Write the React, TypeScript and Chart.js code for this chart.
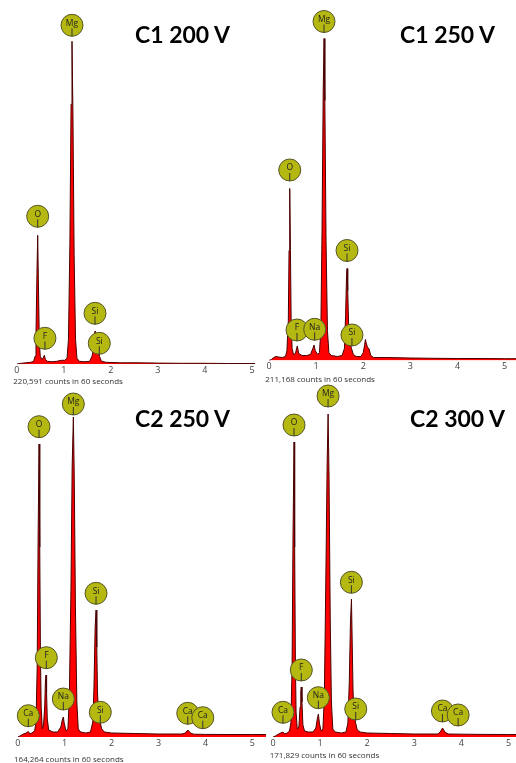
import React, { useEffect, useRef } from "react";
import { Chart, registerables } from "chart.js";

Chart.register(...registerables);
Chart.defaults.font.family = '"Open Sans", "DejaVu Sans", sans-serif';

// ---------- data (energy keV, counts) ----------
const tickValues = [0, 1, 2, 3, 4, 5];

const spectrumC1_200: [number, number][] = [
  [0.0, 0], [0.03, 5], [0.1, 10], [0.2, 15], [0.3, 20], [0.36, 30], [0.39, 80],
  [0.41, 300], [0.43, 900], [0.446, 1290], [0.46, 850], [0.48, 250], [0.5, 80],
  [0.53, 50], [0.56, 60], [0.587, 90], [0.61, 50], [0.65, 30], [0.75, 25],
  [0.85, 30], [0.95, 40], [1.02, 40], [1.07, 60], [1.1, 250], [1.13, 1200],
  [1.155, 2600], [1.175, 3230], [1.195, 2500], [1.22, 1100], [1.25, 250],
  [1.28, 60], [1.33, 30], [1.45, 25], [1.55, 30], [1.6, 80], [1.63, 150],
  [1.655, 250], [1.664, 330], [1.675, 200], [1.7, 160], [1.73, 140], [1.76, 80],
  [1.8, 30], [1.9, 20], [2.2, 15], [2.6, 15], [3.0, 12], [3.5, 10], [4.0, 10],
  [4.5, 8], [5.07, 8],
];

const spectrumC1_250: [number, number][] = [
  [0.0, 0], [0.05, 10], [0.1, 30], [0.15, 40], [0.2, 35], [0.28, 30], [0.35, 40],
  [0.38, 100], [0.41, 400], [0.425, 1100], [0.44, 1720], [0.455, 1100], [0.47, 400],
  [0.49, 120], [0.52, 60], [0.56, 70], [0.6, 145], [0.63, 70], [0.7, 50], [0.8, 50],
  [0.88, 60], [0.93, 120], [0.955, 155], [0.98, 100], [1.03, 60], [1.07, 80],
  [1.1, 300], [1.125, 1300], [1.15, 2700], [1.168, 3220], [1.185, 2600], [1.21, 1200],
  [1.24, 300], [1.27, 80], [1.32, 50], [1.45, 40], [1.55, 50], [1.6, 120],
  [1.625, 450], [1.645, 850], [1.656, 920], [1.67, 700], [1.69, 350], [1.72, 180],
  [1.75, 120], [1.79, 60], [1.85, 40], [1.95, 40], [2.0, 80], [2.03, 160],
  [2.045, 210], [2.06, 180], [2.09, 130], [2.12, 120], [2.16, 50], [2.22, 30],
  [2.5, 30], [3.0, 25], [3.5, 22], [4.0, 20], [4.5, 20], [5.0, 18], [5.24, 18],
];

const spectrumC2_250: [number, number][] = [
  [0.0, 0], [0.05, 10], [0.12, 30], [0.18, 40], [0.226, 55], [0.26, 30], [0.3, 40],
  [0.36, 60], [0.39, 150], [0.415, 700], [0.435, 2000], [0.455, 2930], [0.47, 1900],
  [0.485, 800], [0.5, 300], [0.525, 80], [0.55, 120], [0.575, 300], [0.59, 550],
  [0.603, 620], [0.615, 450], [0.63, 180], [0.66, 70], [0.75, 50], [0.85, 50],
  [0.92, 100], [0.95, 170], [0.973, 200], [0.99, 140], [1.03, 60], [1.07, 80],
  [1.1, 400], [1.135, 1500], [1.16, 2700], [1.186, 3200], [1.205, 2600], [1.23, 1300],
  [1.26, 350], [1.29, 80], [1.34, 50], [1.45, 40], [1.55, 50], [1.6, 150],
  [1.625, 500], [1.65, 1100], [1.67, 1270], [1.685, 900], [1.7, 450], [1.72, 250],
  [1.75, 160], [1.79, 80], [1.85, 50], [2.0, 40], [2.5, 35], [3.0, 30], [3.5, 30],
  [3.57, 40], [3.625, 70], [3.68, 40], [3.75, 28], [4.0, 26], [4.5, 25], [5.0, 25],
  [5.29, 25],
];

const spectrumC2_300: [number, number][] = [
  [0.0, 0], [0.05, 10], [0.12, 30], [0.21, 50], [0.25, 30], [0.3, 40], [0.35, 60],
  [0.38, 140], [0.405, 700], [0.425, 2000], [0.447, 2950], [0.46, 1900], [0.475, 800],
  [0.49, 250], [0.515, 80], [0.55, 100], [0.575, 300], [0.59, 450], [0.6, 500],
  [0.615, 350], [0.635, 120], [0.67, 60], [0.75, 50], [0.85, 50], [0.91, 90],
  [0.94, 180], [0.964, 230], [0.985, 140], [1.02, 60], [1.06, 80], [1.09, 400],
  [1.12, 1500], [1.15, 2750], [1.17, 3230], [1.19, 2600], [1.215, 1200], [1.24, 350],
  [1.27, 80], [1.32, 50], [1.45, 40], [1.55, 50], [1.59, 140], [1.62, 550],
  [1.645, 1150], [1.666, 1380], [1.68, 1000], [1.7, 450], [1.72, 250], [1.75, 150],
  [1.79, 70], [1.85, 50], [2.0, 40], [2.5, 35], [3.0, 30], [3.5, 30], [3.55, 50],
  [3.6, 90], [3.65, 50], [3.72, 30], [4.0, 28], [4.5, 26], [5.0, 25], [5.16, 25],
];

type Peak = { el: string; e: number; c: number };

const peaksC1_200: Peak[] = [
  { el: "Mg", e: 1.175, c: 3390 },
  { el: "O", e: 0.446, c: 1480 },
  { el: "Si", e: 1.664, c: 510 },
  { el: "F", e: 0.6, c: 260 },
  { el: "Si", e: 1.755, c: 210 },
];
const peaksC1_250: Peak[] = [
  { el: "Mg", e: 1.167, c: 3390 },
  { el: "O", e: 0.44, c: 1905 },
  { el: "Si", e: 1.655, c: 1100 },
  { el: "F", e: 0.594, c: 305 },
  { el: "Na", e: 0.969, c: 312 },
  { el: "Si", e: 1.76, c: 255 },
];
const peaksC2_250: Peak[] = [
  { el: "Mg", e: 1.185, c: 3330 },
  { el: "O", e: 0.454, c: 3103 },
  { el: "Si", e: 1.669, c: 1437 },
  { el: "F", e: 0.61, c: 793 },
  { el: "Na", e: 0.972, c: 380 },
  { el: "Ca", e: 0.226, c: 213 },
  { el: "Si", e: 1.76, c: 247 },
  { el: "Ca", e: 3.623, c: 237 },
  { el: "Ca", e: 3.943, c: 193 },
];
const peaksC2_300: Peak[] = [
  { el: "Mg", e: 1.169, c: 3410 },
  { el: "O", e: 0.446, c: 3120 },
  { el: "Si", e: 1.664, c: 1547 },
  { el: "F", e: 0.601, c: 670 },
  { el: "Na", e: 0.963, c: 393 },
  { el: "Ca", e: 0.212, c: 247 },
  { el: "Si", e: 1.757, c: 280 },
  { el: "Ca", e: 3.598, c: 260 },
  { el: "Ca", e: 3.931, c: 220 },
];

const titles = ["C1 200 V", "C1 250 V", "C2 250 V", "C2 300 V"];
const countsText = [
  "220,591 counts in 60 seconds",
  "211,168 counts in 60 seconds",
  "164,264 counts in 60 seconds",
  "171,829 counts in 60 seconds",
];

// ---------- layout ----------
type PanelCfg = {
  spectrum: [number, number][];
  peaks: Peak[];
  title: string;
  counts: string;
  left: number; top: number; width: number; height: number;
  pad: { left: number; right: number; top: number; bottom: number };
  xMax: number;
  titlePos: [number, number];
  countsPos: [number, number];
};

const Y_MAX = 3600;

const panels: PanelCfg[] = [
  {
    spectrum: spectrumC1_200, peaks: peaksC1_200, title: titles[0], counts: countsText[0],
    left: 0, top: 0, width: 258, height: 390,
    pad: { left: 16.7, right: 2.7, top: 4.3, bottom: 11.7 }, xMax: 5.07,
    titlePos: [135, 23], countsPos: [13.3, 376],
  },
  {
    spectrum: spectrumC1_250, peaks: peaksC1_250, title: titles[1], counts: countsText[1],
    left: 258, top: 0, width: 258, height: 390,
    pad: { left: 11, right: 0, top: 0.5, bottom: 15.5 }, xMax: 5.24,
    titlePos: [400, 23], countsPos: [265.3, 374.2],
  },
  {
    spectrum: spectrumC2_250, peaks: peaksC2_250, title: titles[2], counts: countsText[2],
    left: 0, top: 377, width: 270, height: 386,
    pad: { left: 17.7, right: 4, top: 0, bottom: 12 }, xMax: 5.29,
    titlePos: [135, 406.6], countsPos: [14, 753.6],
  },
  {
    spectrum: spectrumC2_300, peaks: peaksC2_300, title: titles[3], counts: countsText[3],
    left: 258, top: 377, width: 258, height: 386,
    pad: { left: 15, right: 0, top: 0, bottom: 12 }, xMax: 5.16,
    titlePos: [410, 406.6], countsPos: [269.7, 749.6],
  },
];

// ---------- plugin for element labels ----------
const peakLabelPlugin = {
  id: "peakLabels",
  afterDatasetsDraw(chart: any, _args: any, opts: any) {
    const { ctx } = chart;
    const x = chart.scales.x;
    const y = chart.scales.y;
    const peaks: Peak[] = opts.peaks || [];
    ctx.save();
    for (const p of peaks) {
      const cx = x.getPixelForValue(p.e);
      const cy = y.getPixelForValue(p.c);
      const r = 11;
      ctx.beginPath();
      ctx.arc(cx, cy, r, 0, Math.PI * 2);
      ctx.fillStyle = "#b5b810";
      ctx.fill();
      ctx.lineWidth = 1;
      ctx.strokeStyle = "#55552a";
      ctx.stroke();
      ctx.beginPath();
      ctx.moveTo(cx, cy + 3);
      ctx.lineTo(cx, cy + r);
      ctx.strokeStyle = "#333";
      ctx.stroke();
      ctx.fillStyle = "#222";
      ctx.font = '8.5px "Open Sans", sans-serif';
      ctx.textAlign = "center";
      ctx.textBaseline = "middle";
      ctx.fillText(p.el, cx, cy - 2);
    }
    ctx.restore();
  },
};

function Panel({ cfg }: { cfg: PanelCfg }) {
  const ref = useRef<HTMLCanvasElement | null>(null);
  useEffect(() => {
    if (!ref.current) return;
    const chart = new Chart(ref.current, {
      type: "line",
      data: {
        datasets: [
          {
            data: cfg.spectrum.map(([e, c]) => ({ x: e, y: c })),
            borderColor: "#4a0000",
            borderWidth: 1,
            backgroundColor: "#ff0000",
            fill: "origin",
            pointRadius: 0,
            tension: 0,
          },
        ],
      },
      options: {
        responsive: false,
        animation: false,
        layout: { padding: cfg.pad },
        plugins: {
          legend: { display: false },
          tooltip: { enabled: false },
          // @ts-ignore
          peakLabels: { peaks: cfg.peaks },
        },
        scales: {
          x: {
            type: "linear",
            min: 0,
            max: cfg.xMax,
            grid: { display: false, drawTicks: false },
            border: { display: false },
            ticks: {
              padding: 1,
              color: "#444",
              font: { size: 9 },
              autoSkip: false,
              maxRotation: 0,
            },
            afterBuildTicks: (s: any) => {
              s.ticks = tickValues.map((v) => ({ value: v }));
            },
            afterFit: (s: any) => {
              s.height = 14;
            },
          },
          y: { display: false, min: 0, max: Y_MAX },
        },
      },
      plugins: [peakLabelPlugin],
    } as any);
    return () => chart.destroy();
  }, [cfg]);
  return (
    <>
      <canvas
        ref={ref}
        width={cfg.width}
        height={cfg.height}
        style={{ position: "absolute", left: cfg.left, top: cfg.top, width: cfg.width, height: cfg.height }}
      />
      <div
        style={{
          position: "absolute", left: cfg.titlePos[0], top: cfg.titlePos[1],
          font: 'bold 23px Lato, "Open Sans", sans-serif', lineHeight: "23px",
          whiteSpace: "nowrap", color: "#000",
        }}
      >
        {cfg.title}
      </div>
      <div
        style={{
          position: "absolute", left: cfg.countsPos[0], top: cfg.countsPos[1],
          font: '8px "Open Sans", sans-serif', lineHeight: "10px",
          whiteSpace: "nowrap", color: "#333",
        }}
      >
        {cfg.counts}
      </div>
    </>
  );
}

export default function App() {
  return (
    <div style={{ position: "absolute", left: 0, top: 0, width: 516, height: 763, background: "#fff", overflow: "hidden" }}>
      {panels.map((p, i) => (
        <Panel key={i} cfg={p} />
      ))}
    </div>
  );
}
